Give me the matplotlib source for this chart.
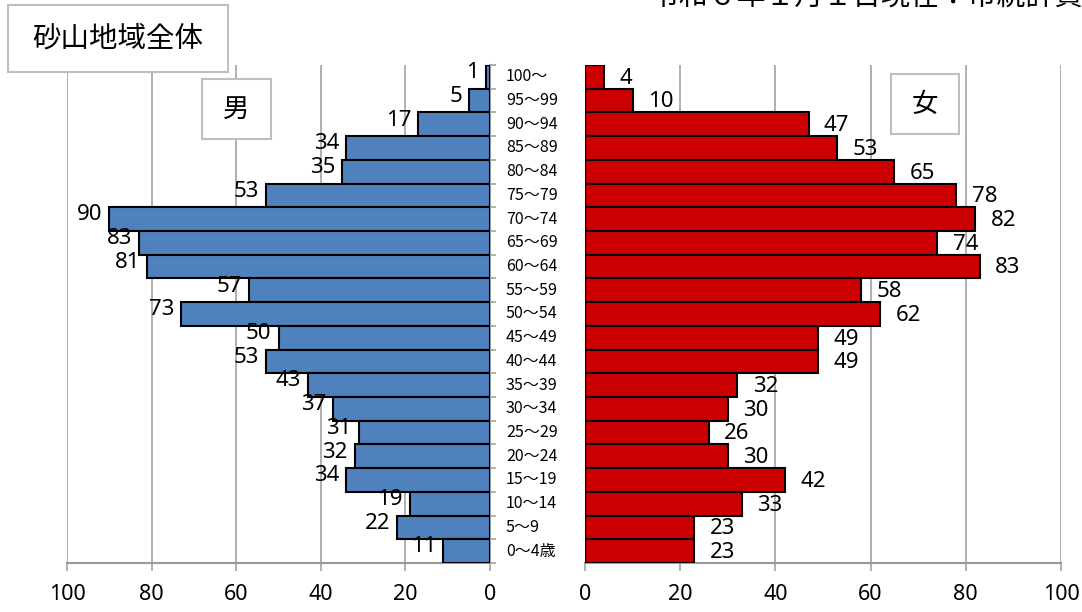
import matplotlib

matplotlib.use("Agg")
import matplotlib.pyplot as plt
import matplotlib.transforms as mtransforms
from matplotlib.patches import Rectangle

# age groups from top (oldest) to bottom (youngest)
age_labels = ["100～", "95～99", "90～94", "85～89", "80～84", "75～79", "70～74",
              "65～69", "60～64", "55～59", "50～54", "45～49", "40～44", "35～39",
              "30～34", "25～29", "20～24", "15～19", "10～14", "5～9", "0～4歳"]
male = [1, 5, 17, 34, 35, 53, 90, 83, 81, 57, 73, 50, 53, 43, 37, 31, 32, 34, 19, 22, 11]
female = [4, 10, 47, 53, 65, 78, 82, 74, 83, 58, 62, 49, 49, 32, 30, 26, 30, 42, 33, 23, 23]
x_ticks = [0, 20, 40, 60, 80, 100]

title_text = "令和６年１月１日現在：市統計資料"
area_text = "砂山地域全体"

W, H = 1082, 612
GRID = "#9a9a9a"
NUM_FONT = ["Noto Sans", "DejaVu Sans"]
JP_FONT = ["Noto Sans CJK JP", "DejaVu Sans"]


def fx(px):
    return px / W


def fy(py):
    return 1 - py / H


def style_axis(ax):
    ax.set_xlim(0, 100)
    ax.set_ylim(-0.5, len(age_labels) - 0.5)
    ax.set_xticks(x_ticks)
    ax.set_xticklabels([str(v) for v in x_ticks], fontsize=15.5, family=NUM_FONT)
    ax.xaxis.grid(True, color=GRID, linewidth=1.1)
    ax.set_axisbelow(True)
    ax.tick_params(axis="x", length=6, width=1.1, color=GRID, pad=9)
    for side in ("top", "left", "right"):
        ax.spines[side].set_visible(False)
    ax.spines["bottom"].set_color(GRID)
    ax.spines["bottom"].set_linewidth(1.5)


def main():
    fig = plt.figure(figsize=(W / 100, H / 100), dpi=100, facecolor="white")
    top, bottom = 65, 563
    ax_m = fig.add_axes([fx(67), fy(bottom), fx(490 - 67), (bottom - top) / H])
    ax_f = fig.add_axes([fx(585), fy(bottom), fx(1061 - 585), (bottom - top) / H])

    ypos = list(range(len(age_labels) - 1, -1, -1))

    style_axis(ax_m)
    style_axis(ax_f)
    ax_m.invert_xaxis()

    ax_m.barh(ypos, male, height=1.0, color="#4f81bd", edgecolor="black", linewidth=1.5, zorder=3)
    ax_f.barh(ypos, female, height=1.0, color="#cc0000", edgecolor="black", linewidth=1.5, zorder=3)

    # vertical axis of the male side with boundary ticks
    ax_m.spines["right"].set_visible(True)
    ax_m.spines["right"].set_color(GRID)
    ax_m.spines["right"].set_linewidth(1.5)
    ax_m.yaxis.tick_right()
    ax_m.set_yticks([i - 0.5 for i in range(len(age_labels) + 1)])
    ax_m.set_yticklabels([])
    ax_m.tick_params(axis="y", length=4, width=1.1, color=GRID, direction="out")
    ax_f.set_yticks([])

    for y, v in zip(ypos, male):
        ax_m.annotate(str(v), (v, y), xytext=(-5, 3), textcoords="offset points",
                      ha="right", va="center", fontsize=16, family=NUM_FONT, zorder=4)
    for y, v in zip(ypos, female):
        ax_f.annotate(str(v), (v, y), xytext=(11, -1), textcoords="offset points",
                      ha="left", va="center", fontsize=16, family=NUM_FONT, zorder=4)

    cat_trans = mtransforms.blended_transform_factory(fig.transFigure, ax_f.transData)
    for y, lab in zip(ypos, age_labels):
        fig.text(fx(506), y, lab, transform=cat_trans, ha="left", va="center",
                 fontsize=11.5, family=JP_FONT)

    # boxed captions
    boxes = [(8, 5, 228, 72, area_text, 20.5), (202, 79, 271, 139, "男", 19),
             (891, 74, 959, 134, "女", 19)]
    for x0, y0, x1, y1, txt, size in boxes:
        fig.add_artist(Rectangle((fx(x0), fy(y1)), fx(x1 - x0), (y1 - y0) / H,
                                 transform=fig.transFigure, facecolor="white",
                                 edgecolor="#bfbfbf", linewidth=1.5, zorder=5))
        fig.text(fx((x0 + x1) / 2), fy((y0 + y1) / 2), txt, ha="center", va="center",
                 fontsize=size, family=JP_FONT, zorder=6)

    fig.text(fx(651), fy(6), title_text, ha="left", va="baseline", fontsize=20.8,
             family=JP_FONT)

    fig.savefig("out.png", dpi=100, facecolor="white")


if __name__ == "__main__":
    main()
